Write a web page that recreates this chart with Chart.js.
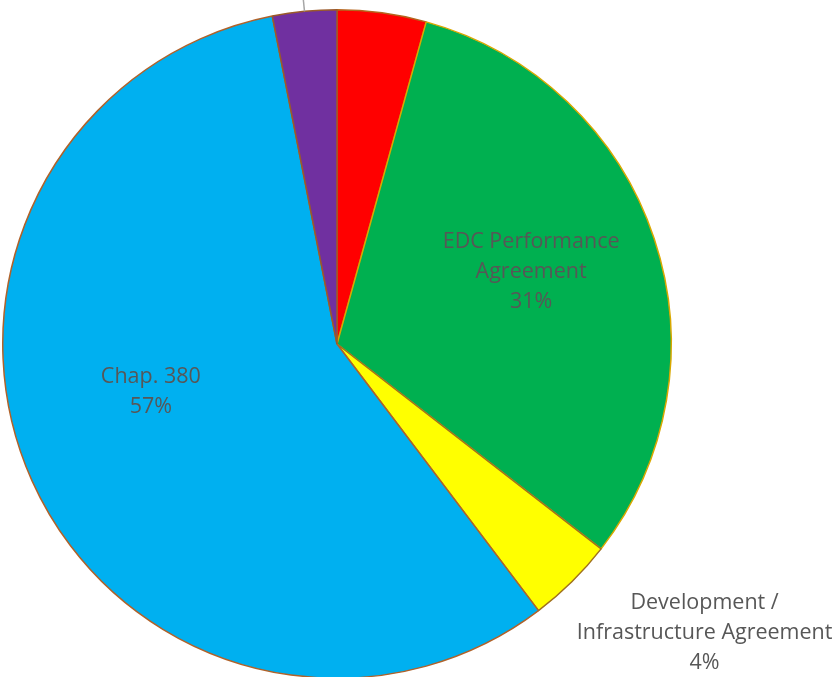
<!DOCTYPE html>
<html>
<head>
<meta charset="utf-8">
<script src="https://cdn.jsdelivr.net/npm/chart.js@4"></script>
<style>
  html, body { margin: 0; padding: 0; background: #fff; overflow: hidden; }
  #wrap { width: 838px; height: 700px; }
</style>
</head>
<body>
<div id="wrap"><canvas id="pieChart"></canvas></div>
<script>
const categories = ['Tax Abatement', 'EDC Performance\nAgreement', 'Development /\nInfrastructure Agreement', 'Chap. 380', 'Other'];
const shares = [4.3, 31.2, 4.2, 57.2, 3.1];
const sliceColors = ['#FF0000', '#00B050', '#FFFF00', '#00B0F0', '#7030A0'];

// where each label sits: angle from 12 o'clock (deg), distance as fraction of radius
// null = label is outside the visible picture
const labelSpots = [null, { a: 69.5, f: 0.62 }, { a: 142, f: 1.14, dx: 133, dy: -11 }, { a: 255.6, f: 0.575 }, null];

const total = shares.reduce((a, b) => a + b, 0);

const labelPlugin = {
  id: 'sliceLabels',
  afterDatasetsDraw(chart) {
    const ctx = chart.ctx;
    const arcs = chart.getDatasetMeta(0).data;
    ctx.save();
    ctx.font = '21.5px "Open Sans", sans-serif';
    ctx.fillStyle = '#575757';
    ctx.textAlign = 'center';
    ctx.textBaseline = 'middle';
    arcs.forEach((arc, i) => {
      const spot = labelSpots[i];
      if (!spot) return;
      const rad = spot.a * Math.PI / 180;
      let x = arc.x + Math.sin(rad) * arc.outerRadius * spot.f + (spot.dx || 0);
      let y = arc.y - Math.cos(rad) * arc.outerRadius * spot.f + (spot.dy || 0);
      const lines = categories[i].split('\n');
      lines.push(Math.round(shares[i] / total * 100) + '%');
      const lh = 30;
      const y0 = y - (lines.length - 1) * lh / 2;
      lines.forEach((t, k) => ctx.fillText(t, x, y0 + k * lh));
    });
    // leader line for the small purple slice (label sits above the picture)
    const p = arcs[4];
    const mid = (p.startAngle + p.endAngle) / 2;
    const ex = p.x + Math.cos(mid) * p.outerRadius;
    const ey = p.y + Math.sin(mid) * p.outerRadius;
    ctx.strokeStyle = '#A6A6A6';
    ctx.lineWidth = 1.5;
    ctx.beginPath();
    ctx.moveTo(ex, ey);
    ctx.lineTo(ex - 2, ey - 20);
    ctx.stroke();
    ctx.restore();
  }
};

new Chart(document.getElementById('pieChart'), {
  type: 'pie',
  data: {
    labels: categories,
    datasets: [{
      data: shares,
      backgroundColor: sliceColors,
      borderColor: ['#B5651D', '#D9A800', '#A0701E', '#B0622A', '#9A5A2A'],
      borderWidth: 1.5
    }]
  },
  options: {
    responsive: true,
    maintainAspectRatio: false,
    animation: false,
    layout: { padding: { left: 2, right: 166, top: 8, bottom: 20 } },
    plugins: {
      legend: { display: false },
      tooltip: { enabled: false }
    }
  },
  plugins: [labelPlugin]
});
</script>
</body>
</html>
